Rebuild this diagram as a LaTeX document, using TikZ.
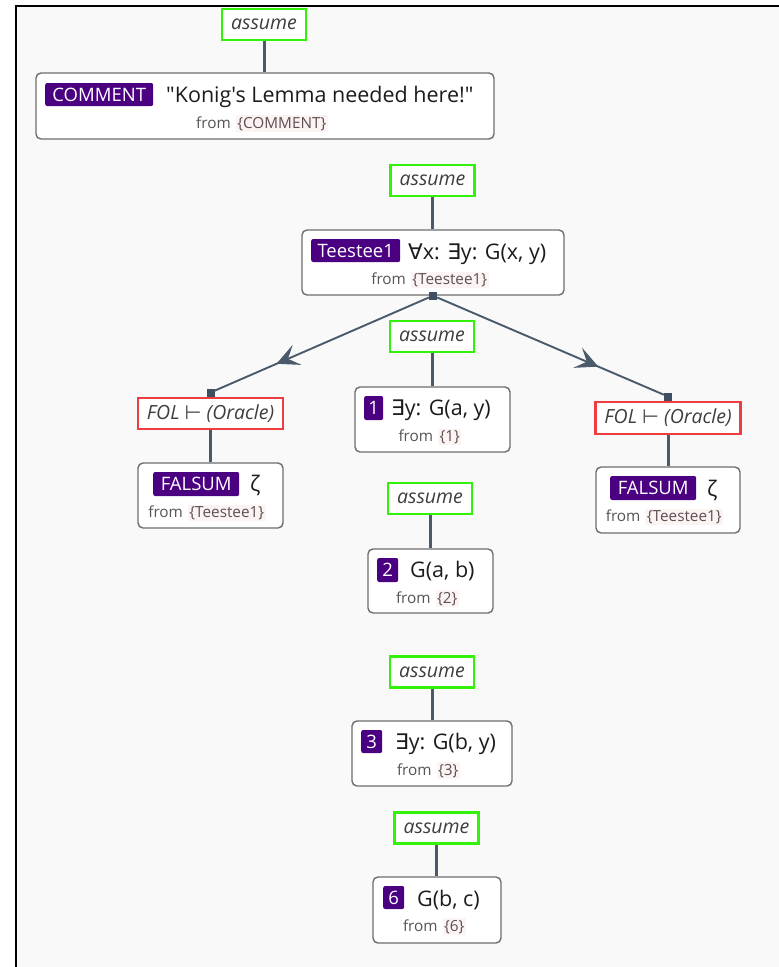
\documentclass[tikz,border=0pt]{standalone}
\usepackage{fontspec}
\newfontfamily\uifont{Open Sans}
\newfontfamily\symf{DejaVu Sans}
\usetikzlibrary{arrows.meta,decorations.markings}
\definecolor{bggray}{HTML}{F9F9F9}
\definecolor{agreen}{HTML}{33F20A}
\definecolor{ored}{HTML}{F03C3C}
\definecolor{bordergray}{HTML}{6E6E6E}
\definecolor{badgecol}{HTML}{4B0082}
\definecolor{conncol}{HTML}{4A5A6B}
\definecolor{sqcol}{HTML}{3D4F61}
\definecolor{maintxt}{HTML}{1C1C1C}
\definecolor{fromtxt}{HTML}{555555}
\definecolor{reftxt}{HTML}{5E5050}
\definecolor{refbg}{HTML}{FCF3F3}
\newcommand\mainsz{\fontsize{21.5}{25}\selectfont}
\newcommand\badgesz{\fontsize{18.5}{22}\selectfont}
\newcommand\fromsz{\fontsize{15.3}{18}\selectfont}
\newcommand\refx[1]{{\setlength{\fboxsep}{1.5pt}\colorbox{refbg}{\textcolor{reftxt}{\{#1\}}}}}
\begin{document}
\begin{tikzpicture}[x=1pt,y=-1pt,
  assume/.style={draw=agreen, line width=2.6pt, fill=white, inner sep=0pt,
    minimum width=84pt, minimum height=31pt, text=maintxt!85,
    font=\uifont\itshape\fontsize{19.5}{22}\selectfont},
  oracle/.style={draw=ored, line width=2.6pt, fill=white, inner sep=0pt,
    minimum width=145pt, minimum height=31pt, text=maintxt!85,
    font=\uifont\itshape\fontsize{19.5}{22}\selectfont},
  box/.style={draw=bordergray, fill=white, line width=1.4pt, rounded corners=5pt, inner sep=0pt},
  badge/.style={anchor=west, fill=badgecol, text=white, rounded corners=2pt, inner xsep=2.5pt, inner ysep=0pt,
    minimum height=23pt, text height=13.5pt, text depth=0pt, font=\uifont\badgesz},
  maintext/.style={anchor=base west, inner sep=0pt, text=maintxt, font=\uifont\mainsz},
  fromline/.style={anchor=base, inner sep=0pt, text=fromtxt, font=\uifont\fromsz},
  conn/.style={draw=conncol, line width=3pt},
  diag/.style={draw=conncol, line width=1.9pt, postaction={decorate},
    decoration={markings, mark=at position 0.705 with {\fill[conncol] (1.5pt,0pt) -- (-21pt,11pt) -- (-11pt,0pt) -- (-21pt,-11pt) -- cycle;}}},
  sq/.style={fill=sqcol, inner sep=0pt, minimum size=8pt}
]
\useasboundingbox (0,0) rectangle (779,967);
\fill[white] (0,0) rectangle (779,967);
\fill[bggray] (16,6) rectangle (779,967);
\draw[black, line width=2pt] (16,967) -- (16,5.5) -- (779,5.5);

% comment block
\node[assume] (a1) at (264,24.5) {assume};
\node[box, minimum width=458pt, minimum height=66pt] (c1) at (265,106) {};
\node[badge, minimum width=108pt] (c1b) at (45,94.5) {COMMENT};
\node[maintext] (c1t) at (166,102) {"Konig's Lemma needed here!"};
\node[fromline] (c1f) at (262,128) {from\hspace{5pt}\refx{COMMENT}};
\draw[conn] (a1.south) -- (a1.south |- c1.north);

% Teestee1
\node[assume] (a2) at (432.5,180.5) {assume};
\node[box, minimum width=262pt, minimum height=65pt] (t) at (433,262.5) {};
\node[badge, minimum width=89pt] (tb) at (311,250.5) {Teestee1};
\node[maintext] (tt) at (408,259) {{\symf ∀}x: {\symf ∃}y: G(x, y)};
\node[fromline] (tf) at (430,284) {from\hspace{5pt}\refx{Teestee1}};
\draw[conn] (a2.south) -- (a2.south |- t.north);
\node[sq] (sqT) at (t.south) {};

% left oracle
\node[oracle] (fl) at (210.5,413.5) {FOL {\symf ⊢} (Oracle)};
\node[sq, anchor=south] (sqL) at (fl.north) {};
\node[box, minimum width=145pt, minimum height=65pt] (fL) at (210.5,495.5) {};
\node[badge, minimum width=86pt, minimum height=24pt] (fLb) at (153,484) {FALSUM};
\node[maintext] (fLt) at (250,491) {ζ};
\node[fromline] (fLf) at (207,517) {from\hspace{5pt}\refx{Teestee1}};
\draw[conn] (fl.south) -- (fl.south |- fL.north);

% right oracle
\node[oracle, minimum height=32pt] (fr) at (668,418) {FOL {\symf ⊢} (Oracle)};
\node[sq, anchor=south] (sqR) at (fr.north) {};
\node[box, minimum width=144pt, minimum height=66pt] (fR) at (668,500) {};
\node[badge, minimum width=86pt, minimum height=24pt] (fRb) at (610,488) {FALSUM};
\node[maintext] (fRt) at (707,496) {ζ};
\node[fromline] (fRf) at (664.5,521) {from\hspace{5pt}\refx{Teestee1}};
\draw[conn] (fr.south) -- (fr.south |- fR.north);

\draw[diag] (sqT) -- (sqL);
\draw[diag] (sqT) -- (sqR);

% node 1
\node[assume] (a3) at (432,336.5) {assume};
\node[box, minimum width=155pt, minimum height=65pt] (n1) at (432.5,419.5) {};
\node[badge, minimum width=19pt, minimum height=24pt] (n1b) at (364,408) {1};
\node[maintext] (n1t) at (391,415) {{\symf ∃}y: G(a, y)};
\node[fromline] (n1f) at (430,441) {from\hspace{5pt}\refx{1}};
\draw[conn] (a3.south) -- (a3.south |- n1.north);

% node 2
\node[assume] (a4) at (430,498.5) {assume};
\node[box, minimum width=125pt, minimum height=64pt] (n2) at (430.5,581) {};
\node[badge, minimum width=21pt, minimum height=24pt] (n2b) at (377,570) {2};
\node[maintext] (n2t) at (410,577) {G(a, b)};
\node[fromline] (n2f) at (427.5,603) {from\hspace{5pt}\refx{2}};
\draw[conn] (a4.south) -- (a4.south |- n2.north);

% node 3
\node[assume] (a5) at (432,672) {assume};
\node[box, minimum width=160pt, minimum height=65pt] (n3) at (432,753.5) {};
\node[badge, minimum width=21pt] (n3b) at (361,741.5) {3};
\node[maintext] (n3t) at (395,749) {{\symf ∃}y: G(b, y)};
\node[fromline] (n3f) at (428.5,775) {from\hspace{5pt}\refx{3}};
\draw[conn] (a5.south) -- (a5.south |- n3.north);

% node 6
\node[assume] (a6) at (436.5,828) {assume};
\node[box, minimum width=128pt, minimum height=66pt] (n6) at (437,910) {};
\node[badge, minimum width=21pt] (n6b) at (383,897.5) {6};
\node[maintext] (n6t) at (417,906) {G(b, c)};
\node[fromline] (n6f) at (434.5,931) {from\hspace{5pt}\refx{6}};
\draw[conn] (a6.south) -- (a6.south |- n6.north);
\end{tikzpicture}
\end{document}
